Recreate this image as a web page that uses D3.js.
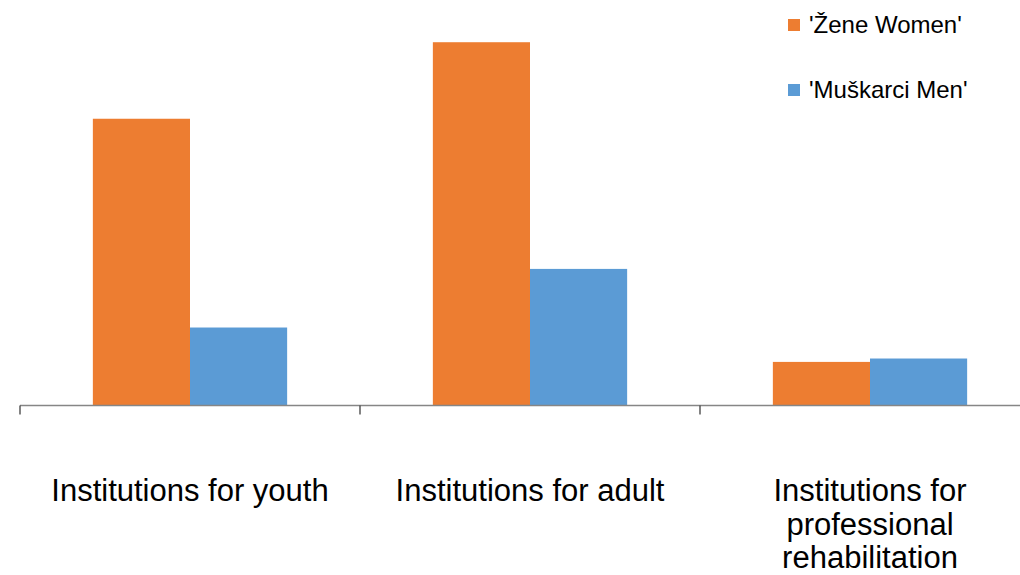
<!DOCTYPE html>
<html>
<head>
<meta charset="utf-8">
<script src="https://cdn.jsdelivr.net/npm/d3@7"></script>
<style>
  html, body { margin: 0; padding: 0; background: #fff; }
  svg { display: block; font-family: "Liberation Sans", Arial, sans-serif; }
</style>
</head>
<body>
<svg id="chart" width="1020" height="575"></svg>
<script>
// Institution types (category axis)
const categories = [
  "Institutions for youth",
  "Institutions for adult",
  "Institutions for professional rehabilitation"
];
// Series names as shown in the legend
const seriesNames = ["'Žene Women'", "'Muškarci Men'"];
// Values per category
const women = [59.2, 75.0, 9.0];
const men = [16.1, 28.2, 9.7];
const yMax = 80;

const colors = ["#ED7D31", "#5B9BD5"];
const seriesValues = [women, men];

const svg = d3.select("#chart");

const x = d3.scaleBand()
  .domain(categories)
  .range([20, 1040])
  .paddingInner(0)
  .paddingOuter(0);

const y = d3.scaleLinear().domain([0, yMax]).range([405.5, 18]);

// Bars take 2 of every (2 + 1.5) bar-widths in a category slot
const barW = x.bandwidth() / 3.5;
const gap = (x.bandwidth() - 2 * barW) / 2;

const xs = d3.scaleBand()
  .domain(d3.range(seriesNames.length))
  .range([gap, gap + 2 * barW]);

const groups = svg.append("g").selectAll("g")
  .data(categories)
  .join("g")
  .attr("transform", d => `translate(${x(d)},0)`);

groups.selectAll("rect")
  .data((d, i) => seriesValues.map((vals, s) => ({ s, v: vals[i] })))
  .join("rect")
  .attr("x", d => xs(d.s))
  .attr("width", xs.bandwidth())
  .attr("y", d => y(d.v))
  .attr("height", d => y(0) - y(d.v))
  .attr("fill", d => colors[d.s]);

// Category axis: baseline with tick marks at category boundaries
const axisG = svg.append("g");
axisG.append("line")
  .attr("x1", 20).attr("x2", 1040)
  .attr("y1", y(0)).attr("y2", y(0))
  .attr("stroke", "#868686").attr("stroke-width", 1.5);
const boundaries = categories.map(c => x(c)).concat([x.range()[1]]);
axisG.selectAll("line.tick")
  .data(boundaries)
  .join("line")
  .attr("class", "tick")
  .attr("x1", d => d).attr("x2", d => d)
  .attr("y1", y(0)).attr("y2", y(0) + 9)
  .attr("stroke", "#404040").attr("stroke-width", 1.3);

// Category labels, wrapped to fit the slot
const labelLines = [
  ["Institutions for youth"],
  ["Institutions for adult"],
  ["Institutions for", "professional", "rehabilitation"]
];
const labels = svg.append("g").selectAll("text")
  .data(categories)
  .join("text")
  .attr("x", d => x(d) + x.bandwidth() / 2)
  .attr("y", 501)
  .attr("text-anchor", "middle")
  .attr("font-size", 31)
  .attr("fill", "#000");
labels.each(function(d, i) {
  d3.select(this).selectAll("tspan")
    .data(labelLines[i])
    .join("tspan")
    .attr("x", x(d) + x.bandwidth() / 2)
    .attr("dy", (t, j) => j === 0 ? 0 : 33.5)
    .text(t => t);
});

// Legend
const legend = svg.append("g").selectAll("g")
  .data(seriesNames)
  .join("g")
  .attr("transform", (d, i) => `translate(788, ${19 + i * 65})`);
legend.append("rect")
  .attr("width", 12).attr("height", 12)
  .attr("fill", (d, i) => colors[i]);
legend.append("text")
  .attr("x", 21).attr("y", 14)
  .attr("font-size", 24)
  .attr("fill", "#000")
  .text(d => d);
</script>
</body>
</html>
